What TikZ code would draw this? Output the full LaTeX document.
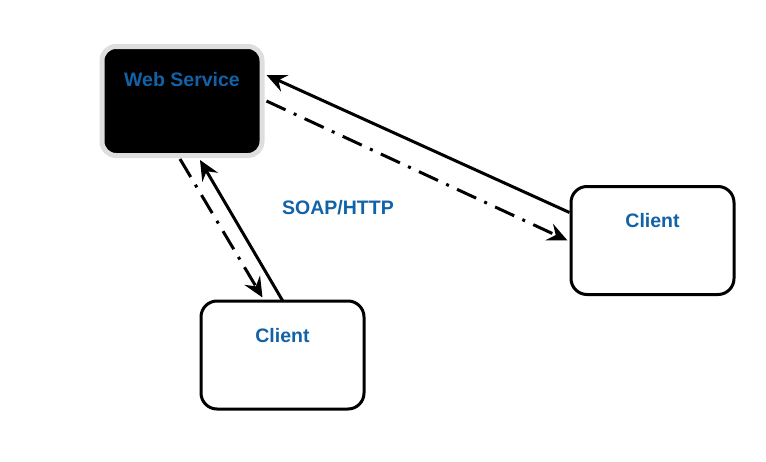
\documentclass[tikz,border=0pt]{standalone}
\usepackage{fontspec}
\setmainfont{Liberation Sans}
\usepackage{xcolor}
\definecolor{wsblue}{RGB}{18,98,168}
\definecolor{wsgray}{RGB}{222,222,222}
\usetikzlibrary{arrows.meta}
\tikzset{
  srvbox/.style={draw=wsgray, fill=black, rounded corners=14pt, line width=5pt,
                 minimum width=160pt, minimum height=109pt},
  cltbox/.style={draw=black, fill=white, rounded corners=16pt, line width=3pt,
                 minimum width=163pt, minimum height=108pt},
  tag/.style={font=\fontsize{19.5}{23}\selectfont\bfseries, text=wsblue},
  req/.style={line width=3pt, -{Stealth[length=20pt, width=18pt, inset=7pt]}},
  resp/.style={req, dash pattern=on 21pt off 9pt on 3pt off 9pt},
}
\begin{document}
\begin{tikzpicture}[x=1pt, y=-1pt]
\useasboundingbox (0,0) rectangle (766,461);
% boxes
\node[srvbox, label={[tag, anchor=north, yshift=-25pt]north:Web Service}] (ws) at (182,101) {};
\node[cltbox, label={[tag, anchor=north, yshift=-25pt]north:Client}] (c1) at (282.5,355) {};
\node[cltbox, label={[tag, anchor=north, yshift=-25pt]north:Client}] (c2) at (652.5,240.5) {};

% protocol label
\node[tag] (soap) at (338,208) {SOAP/HTTP};

% right client
\draw[req] ([yshift=28pt]c2.west) -- ([xshift=2pt, yshift=26pt]ws.east);
\draw[resp] ([xshift=2pt]ws.east) -- ([xshift=-2pt]c2.west);

% lower client
\draw[resp] ([xshift=-2pt, yshift=-1pt]ws.south) -- ([xshift=-20pt, yshift=2pt]c1.north);
\draw[req] ([yshift=-1pt]c1.north) -- ([xshift=18pt, yshift=-2pt]ws.south);
\end{tikzpicture}
\end{document}
